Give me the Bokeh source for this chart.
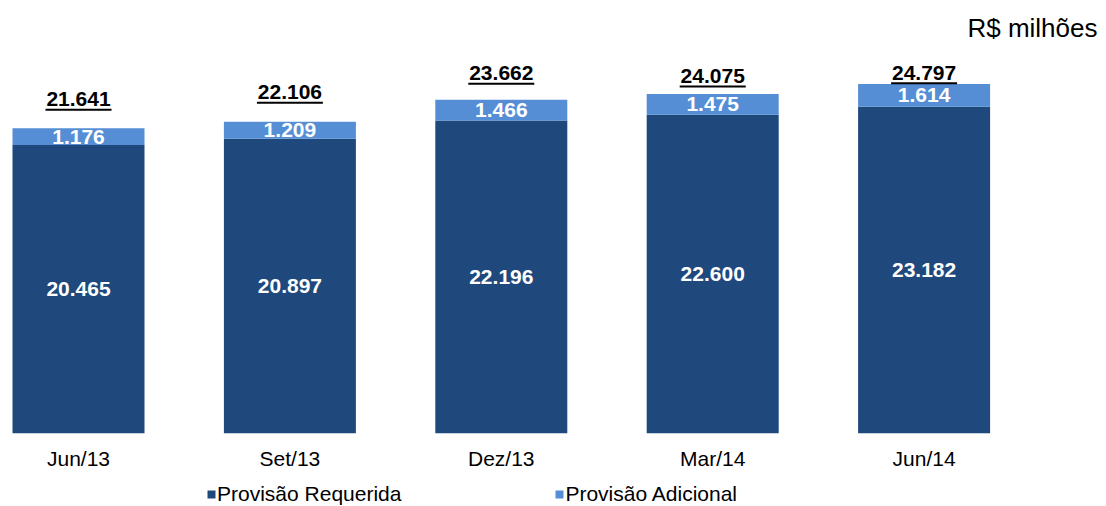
from bokeh.plotting import figure
from bokeh.layouts import column
from bokeh.models import Range1d, FixedTicker, ColumnDataSource, Legend, LegendItem, Label
from bokeh.core.properties import value
from bokeh.embed import file_html
from bokeh.resources import INLINE

# ---- data ----
periods = ["Jun/13", "Set/13", "Dez/13", "Mar/14", "Jun/14"]
requerida = [20465, 20897, 22196, 22600, 23182]
adicional = [1176, 1209, 1466, 1475, 1614]
totais = [21641, 22106, 23662, 24075, 24797]
series_names = ["Provisão Requerida", "Provisão Adicional"]
# lift of the total label above each bar top (pixels, as placed in the original)
total_lift_px = [29, 29.5, 26.5, 18, 11]

DARK = "#1F497D"
LIGHT = "#558ED5"
FONT = "Liberation Sans"

W = 1098
H_MAIN = 478
H_LEG = 28
FRAME_BOTTOM = 433          # figure px from top
Y_PX = 0.0141               # px per unit
Y_END = FRAME_BOTTOM / Y_PX
DU = 1 / Y_PX               # data units per px
X_PX = 211.4                # px per category
X_START = -78 / X_PX
X_END = X_START + W / X_PX


def fmt(v):
    return f"{v:,}".replace(",", ".")


xs = list(range(len(periods)))
src = ColumnDataSource(dict(
    x=xs,
    req=requerida,
    add=adicional,
    top=[r + a for r, a in zip(requerida, adicional)],
    req_mid=[r / 2 for r in requerida],
    add_mid=[r + a / 2 for r, a in zip(requerida, adicional)],
    req_lbl=[fmt(v) for v in requerida],
    add_lbl=[fmt(v) for v in adicional],
    tot_lbl=[fmt(v) for v in totais],
    tot_y=[t + l * DU for t, l in zip(totais, total_lift_px)],
    ul_y=[t + (l - 10.5) * DU for t, l in zip(totais, total_lift_px)],
    ul_x0=[x - 33 / X_PX for x in xs],
    ul_x1=[x + 33 / X_PX for x in xs],
))

p = figure(width=W, height=H_MAIN, output_backend="svg", toolbar_location=None,
           x_range=Range1d(X_START, X_END), y_range=Range1d(0, Y_END),
           y_axis_location=None, min_border_left=0, min_border_right=0,
           min_border_top=0, min_border_bottom=H_MAIN - FRAME_BOTTOM)
p.outline_line_color = None
p.grid.visible = False
p.background_fill_color = "white"
p.border_fill_color = "white"

BW = 132 / X_PX
p.vbar(x="x", bottom=0, top="req", width=BW, source=src,
       fill_color=DARK, line_color=None)
p.vbar(x="x", bottom="req", top="top", width=BW, source=src,
       fill_color=LIGHT, line_color=None)

p.text(x="x", y="req_mid", text="req_lbl", source=src, text_color="white",
       text_font=value(FONT), text_font_style="bold", text_font_size="21px",
       text_align="center", text_baseline="middle")
p.text(x="x", y="add_mid", text="add_lbl", source=src, text_color="white",
       text_font=value(FONT), text_font_style="bold", text_font_size="21px",
       text_align="center", text_baseline="middle")
p.text(x="x", y="tot_y", text="tot_lbl", source=src, text_color="black",
       text_font=value(FONT), text_font_style="bold", text_font_size="21px",
       text_align="center", text_baseline="middle")
p.segment(x0="ul_x0", x1="ul_x1", y0="ul_y", y1="ul_y", source=src,
          line_color="black", line_width=2)

ax = p.xaxis[0]
ax.ticker = FixedTicker(ticks=xs)
ax.major_label_overrides = {i: s for i, s in enumerate(periods)}
ax.major_label_text_font = FONT
ax.major_label_text_font_size = "21px"
ax.major_label_text_color = "black"
ax.major_label_standoff = 7
ax.axis_line_color = None
ax.major_tick_line_color = None
ax.minor_tick_line_color = None

unit = Label(x=X_END, y=(FRAME_BOTTOM - 27) * DU, x_offset=-1, text="R$ milhões",
             text_font=FONT, text_font_size="26px", text_color="black",
             text_align="right", text_baseline="middle")
p.add_layout(unit)

# ---- legend strip (hidden copies of the same series supply the swatches) ----
p2 = figure(width=W, height=H_LEG, output_backend="svg", toolbar_location=None,
            x_range=Range1d(X_START, X_END), y_range=Range1d(0, Y_END),
            x_axis_location=None, y_axis_location=None,
            min_border_left=0, min_border_right=0, min_border_top=0, min_border_bottom=0)
p2.outline_line_color = None
p2.grid.visible = False
lr1 = p2.vbar(x="x", bottom=0, top="req", width=BW, source=src,
              fill_color=DARK, line_color=None, visible=False)
lr2 = p2.vbar(x="x", bottom="req", top="top", width=BW, source=src,
              fill_color=LIGHT, line_color=None, visible=False)
legend = Legend(items=[LegendItem(label=series_names[0], renderers=[lr1]),
                       LegendItem(label=series_names[1], renderers=[lr2])],
                orientation="horizontal", location=(206, 0),
                glyph_width=10, glyph_height=10, label_standoff=1, spacing=153,
                padding=0, margin=0, border_line_color=None,
                background_fill_alpha=0, inactive_fill_alpha=0,
                label_text_font=FONT, label_text_font_size="21px",
                label_text_color="black")
p2.add_layout(legend, "center")

open("out.html", "w").write(file_html(column(p, p2, spacing=0), INLINE))
